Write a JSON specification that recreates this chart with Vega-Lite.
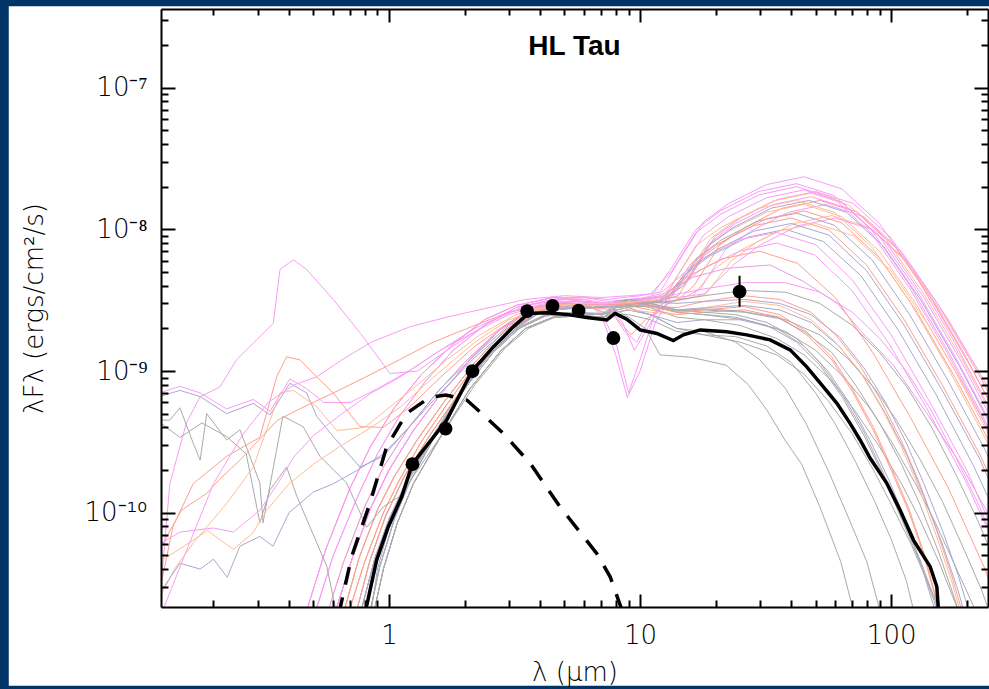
{
"$schema":"https://vega.github.io/schema/vega-lite/v6.json",
"width":827,"height":598,
"autosize":"none",
"padding":{"left":161,"top":9,"right":1,"bottom":82},
"background":"#003366",
"title":{"text":"HL Tau","anchor":"middle","frame":"group","offset":-77,"baseline":"alphabetic","font":"Liberation Sans","fontSize":28,"fontWeight":"bold","color":"#000000"},
"config":{"view":{"stroke":null},"axis":{"grid":false,"domainColor":"#000000","domainWidth":2,"tickColor":"#000000","tickWidth":2,"labelColor":"#000000","labelFont":"DejaVu Sans","labelFontSize":26,"labelFontWeight":200,"titleColor":"#000000","titleFont":"DejaVu Sans","titleFontSize":26,"titleFontWeight":200,"labelOverlap":false,"labelFlush":false,"labelBound":false}},
"resolve":{"axis":{"x":"independent","y":"independent"}},
"datasets":{
"models":[
{"k":"H1","x":0.5,"y":1.8e-11},{"k":"H1","x":0.6,"y":5e-11},{"k":"H1","x":0.75,"y":1.3e-10},{"k":"H1","x":0.9,"y":2.6e-10},{"k":"H1","x":1.1,"y":4.8e-10},{"k":"H1","x":1.4,"y":8.5e-10},{"k":"H1","x":1.8,"y":1.4e-9},{"k":"H1","x":2.4,"y":2.1e-9},{"k":"H1","x":3.2,"y":2.8e-9},{"k":"H1","x":4.5,"y":3.2e-9},{"k":"H1","x":6,"y":3.3e-9},{"k":"H1","x":7.5,"y":3.2e-9},{"k":"H1","x":8.5,"y":3.3e-9},{"k":"H1","x":10,"y":3.4e-9},{"k":"H1","x":12,"y":3.6e-9},{"k":"H1","x":14.2,"y":5.9e-9},{"k":"H1","x":17.9,"y":1.13e-8},{"k":"H1","x":22.5,"y":1.52e-8},{"k":"H1","x":31.9,"y":2.07e-8},{"k":"H1","x":45,"y":2.35e-8},{"k":"H1","x":63.6,"y":1.93e-8},{"k":"H1","x":89.8,"y":1.1e-8},{"k":"H1","x":126.8,"y":4.54e-9},{"k":"H1","x":179,"y":1.59e-9},{"k":"H1","x":253,"y":5e-10},
{"k":"H2","x":0.6,"y":1.8e-11},{"k":"H2","x":0.72,"y":5e-11},{"k":"H2","x":0.85,"y":1.1e-10},{"k":"H2","x":1,"y":2e-10},{"k":"H2","x":1.25,"y":3.8e-10},{"k":"H2","x":1.6,"y":6.8e-10},{"k":"H2","x":2.1,"y":1.2e-9},{"k":"H2","x":2.8,"y":2e-9},{"k":"H2","x":3.6,"y":2.7e-9},{"k":"H2","x":4.5,"y":3e-9},{"k":"H2","x":6,"y":3e-9},{"k":"H2","x":7,"y":2.6e-9},{"k":"H2","x":8,"y":1.6e-9},{"k":"H2","x":9,"y":7e-10},{"k":"H2","x":10,"y":1.2e-9},{"k":"H2","x":11.5,"y":2.6e-9},{"k":"H2","x":13.5,"y":3.6e-9},{"k":"H2","x":15.8,"y":4.6e-9},{"k":"H2","x":19.9,"y":8.9e-9},{"k":"H2","x":25.1,"y":1.2e-8},{"k":"H2","x":35.4,"y":1.63e-8},{"k":"H2","x":50,"y":1.85e-8},{"k":"H2","x":70.7,"y":1.52e-8},{"k":"H2","x":99.8,"y":8.7e-9},{"k":"H2","x":140.9,"y":3.57e-9},{"k":"H2","x":199,"y":1.25e-9},{"k":"H2","x":281,"y":3.9e-10},
{"k":"H3","x":0.46,"y":1.8e-11},{"k":"H3","x":0.56,"y":5.5e-11},{"k":"H3","x":0.7,"y":1.5e-10},{"k":"H3","x":0.85,"y":3e-10},{"k":"H3","x":1.05,"y":5.5e-10},{"k":"H3","x":1.35,"y":9.5e-10},{"k":"H3","x":1.8,"y":1.55e-9},{"k":"H3","x":2.4,"y":2.3e-9},{"k":"H3","x":3.2,"y":2.9e-9},{"k":"H3","x":4.5,"y":3.3e-9},{"k":"H3","x":6,"y":3.2e-9},{"k":"H3","x":7.5,"y":3e-9},{"k":"H3","x":9,"y":3.1e-9},{"k":"H3","x":10.5,"y":3.2e-9},{"k":"H3","x":12.5,"y":3.4e-9},{"k":"H3","x":15.2,"y":4.5e-9},{"k":"H3","x":19.1,"y":8.6e-9},{"k":"H3","x":24,"y":1.16e-8},{"k":"H3","x":34,"y":1.59e-8},{"k":"H3","x":48,"y":1.8e-8},{"k":"H3","x":67.8,"y":1.48e-8},{"k":"H3","x":95.8,"y":8.4e-9},{"k":"H3","x":135.3,"y":3.47e-9},{"k":"H3","x":191,"y":1.22e-9},{"k":"H3","x":270,"y":3.85e-10},
{"k":"H4","x":0.68,"y":1.8e-11},{"k":"H4","x":0.8,"y":4.5e-11},{"k":"H4","x":0.95,"y":1e-10},{"k":"H4","x":1.1,"y":1.7e-10},{"k":"H4","x":1.35,"y":3.2e-10},{"k":"H4","x":1.7,"y":5.8e-10},{"k":"H4","x":2.2,"y":1.1e-9},{"k":"H4","x":3,"y":1.9e-9},{"k":"H4","x":3.8,"y":2.6e-9},{"k":"H4","x":5,"y":2.9e-9},{"k":"H4","x":6.5,"y":2.8e-9},{"k":"H4","x":8,"y":2.4e-9},{"k":"H4","x":9.2,"y":1.8e-9},{"k":"H4","x":10.5,"y":2.3e-9},{"k":"H4","x":12.5,"y":2.9e-9},{"k":"H4","x":14.5,"y":3.3e-9},{"k":"H4","x":16.4,"y":4e-9},{"k":"H4","x":20.7,"y":7.7e-9},{"k":"H4","x":26.1,"y":1.03e-8},{"k":"H4","x":36.8,"y":1.41e-8},{"k":"H4","x":52,"y":1.6e-8},{"k":"H4","x":73.5,"y":1.32e-8},{"k":"H4","x":103.7,"y":7.5e-9},{"k":"H4","x":146.5,"y":3.09e-9},{"k":"H4","x":207,"y":1.08e-9},{"k":"H4","x":292,"y":3.4e-10},
{"k":"H5","x":0.56,"y":1.8e-11},{"k":"H5","x":0.66,"y":4.5e-11},{"k":"H5","x":0.8,"y":1.1e-10},{"k":"H5","x":0.95,"y":2.1e-10},{"k":"H5","x":1.2,"y":4e-10},{"k":"H5","x":1.55,"y":7e-10},{"k":"H5","x":2,"y":1.15e-9},{"k":"H5","x":2.7,"y":1.9e-9},{"k":"H5","x":3.6,"y":2.6e-9},{"k":"H5","x":4.5,"y":2.95e-9},{"k":"H5","x":6,"y":3e-9},{"k":"H5","x":7.5,"y":2.9e-9},{"k":"H5","x":9,"y":3e-9},{"k":"H5","x":10.5,"y":3.1e-9},{"k":"H5","x":12,"y":3.2e-9},{"k":"H5","x":14.2,"y":3.8e-9},{"k":"H5","x":17.9,"y":7.2e-9},{"k":"H5","x":22.5,"y":9.7e-9},{"k":"H5","x":31.9,"y":1.32e-8},{"k":"H5","x":45,"y":1.5e-8},{"k":"H5","x":63.6,"y":1.23e-8},{"k":"H5","x":89.8,"y":7e-9},{"k":"H5","x":126.8,"y":2.9e-9},{"k":"H5","x":179,"y":1.01e-9},{"k":"H5","x":253,"y":3.2e-10},
{"k":"H6","x":0.76,"y":1.8e-11},{"k":"H6","x":0.88,"y":4.8e-11},{"k":"H6","x":1,"y":9e-11},{"k":"H6","x":1.2,"y":1.8e-10},{"k":"H6","x":1.5,"y":3.5e-10},{"k":"H6","x":1.9,"y":6.5e-10},{"k":"H6","x":2.4,"y":1.2e-9},{"k":"H6","x":3.2,"y":2e-9},{"k":"H6","x":4,"y":2.6e-9},{"k":"H6","x":5,"y":2.75e-9},{"k":"H6","x":6.5,"y":2.8e-9},{"k":"H6","x":8,"y":2.9e-9},{"k":"H6","x":9.5,"y":3e-9},{"k":"H6","x":11,"y":3e-9},{"k":"H6","x":13.3,"y":3.3e-9},{"k":"H6","x":16.7,"y":6.2e-9},{"k":"H6","x":21,"y":8.4e-9},{"k":"H6","x":29.7,"y":1.15e-8},{"k":"H6","x":42,"y":1.3e-8},{"k":"H6","x":59.3,"y":1.07e-8},{"k":"H6","x":83.8,"y":6.1e-9},{"k":"H6","x":118.4,"y":2.5e-9},{"k":"H6","x":167,"y":8.8e-10},{"k":"H6","x":236,"y":2.8e-10},{"k":"H6","x":334,"y":7.3e-11},
{"k":"H7","x":0.5,"y":1.8e-11},{"k":"H7","x":0.6,"y":5e-11},{"k":"H7","x":0.75,"y":1.3e-10},{"k":"H7","x":0.9,"y":2.6e-10},{"k":"H7","x":1.1,"y":4.8e-10},{"k":"H7","x":1.4,"y":8.5e-10},{"k":"H7","x":1.8,"y":1.4e-9},{"k":"H7","x":2.4,"y":2.1e-9},{"k":"H7","x":3.2,"y":2.8e-9},{"k":"H7","x":4.5,"y":3.2e-9},{"k":"H7","x":6,"y":3.2e-9},{"k":"H7","x":7.5,"y":2.8e-9},{"k":"H7","x":8.7,"y":1.9e-9},{"k":"H7","x":9.7,"y":1.6e-9},{"k":"H7","x":11,"y":2.4e-9},{"k":"H7","x":13,"y":3e-9},{"k":"H7","x":15,"y":3.3e-9},{"k":"H7","x":17.4,"y":3.8e-9},{"k":"H7","x":21.9,"y":7.2e-9},{"k":"H7","x":27.6,"y":9.7e-9},{"k":"H7","x":38.9,"y":1.32e-8},{"k":"H7","x":55,"y":1.5e-8},{"k":"H7","x":77.7,"y":1.23e-8},{"k":"H7","x":109.7,"y":7e-9},{"k":"H7","x":155,"y":2.9e-9},{"k":"H7","x":219,"y":1.01e-9},{"k":"H7","x":309,"y":3.2e-10},
{"k":"H8","x":0.6,"y":1.8e-11},{"k":"H8","x":0.72,"y":5e-11},{"k":"H8","x":0.85,"y":1.1e-10},{"k":"H8","x":1,"y":2e-10},{"k":"H8","x":1.25,"y":3.8e-10},{"k":"H8","x":1.6,"y":6.8e-10},{"k":"H8","x":2.1,"y":1.2e-9},{"k":"H8","x":2.8,"y":2e-9},{"k":"H8","x":3.6,"y":2.7e-9},{"k":"H8","x":4.5,"y":3e-9},{"k":"H8","x":6,"y":3e-9},{"k":"H8","x":7.5,"y":2.9e-9},{"k":"H8","x":9,"y":3e-9},{"k":"H8","x":10.8,"y":3e-9},{"k":"H8","x":12.6,"y":3.1e-9},{"k":"H8","x":15.9,"y":5.7e-9},{"k":"H8","x":20,"y":7.75e-9},{"k":"H8","x":28.3,"y":1.06e-8},{"k":"H8","x":40,"y":1.2e-8},{"k":"H8","x":56.5,"y":9.9e-9},{"k":"H8","x":79.8,"y":5.6e-9},{"k":"H8","x":112.7,"y":2.3e-9},{"k":"H8","x":159,"y":8.1e-10},{"k":"H8","x":225,"y":2.6e-10},{"k":"H8","x":318,"y":6.7e-11},
{"k":"H9","x":0.65,"y":1.8e-11},{"k":"H9","x":0.76,"y":4.8e-11},{"k":"H9","x":0.9,"y":1.05e-10},{"k":"H9","x":1.05,"y":1.8e-10},{"k":"H9","x":1.3,"y":3.3e-10},{"k":"H9","x":1.65,"y":6e-10},{"k":"H9","x":2.2,"y":1.15e-9},{"k":"H9","x":2.9,"y":1.95e-9},{"k":"H9","x":3.8,"y":2.65e-9},{"k":"H9","x":5,"y":2.95e-9},{"k":"H9","x":6.5,"y":2.9e-9},{"k":"H9","x":8,"y":2.8e-9},{"k":"H9","x":9.5,"y":2.9e-9},{"k":"H9","x":11,"y":3e-9},{"k":"H9","x":12.5,"y":3.3e-9},{"k":"H9","x":15.1,"y":4.8e-9},{"k":"H9","x":19,"y":6.5e-9},{"k":"H9","x":26.9,"y":8.8e-9},{"k":"H9","x":38,"y":1e-8},{"k":"H9","x":53.7,"y":8.2e-9},{"k":"H9","x":75.8,"y":4.7e-9},{"k":"H9","x":107,"y":1.93e-9},{"k":"H9","x":151,"y":6.8e-10},{"k":"H9","x":214,"y":2.1e-10},{"k":"H9","x":302,"y":5.6e-11},
{"k":"H10","x":0.73,"y":1.8e-11},{"k":"H10","x":0.84,"y":4.6e-11},{"k":"H10","x":0.97,"y":9.5e-11},{"k":"H10","x":1.15,"y":1.8e-10},{"k":"H10","x":1.45,"y":3.5e-10},{"k":"H10","x":1.85,"y":6.5e-10},{"k":"H10","x":2.4,"y":1.25e-9},{"k":"H10","x":3.1,"y":2e-9},{"k":"H10","x":4,"y":2.6e-9},{"k":"H10","x":5,"y":2.8e-9},{"k":"H10","x":6.5,"y":2.8e-9},{"k":"H10","x":8,"y":2.9e-9},{"k":"H10","x":10,"y":3e-9},{"k":"H10","x":12.5,"y":3.1e-9},{"k":"H10","x":15,"y":3.2e-9},{"k":"H10","x":18.3,"y":3.5e-9},{"k":"H10","x":23.1,"y":6e-9},{"k":"H10","x":29.1,"y":8.1e-9},{"k":"H10","x":41.1,"y":1.1e-8},{"k":"H10","x":58,"y":1.25e-8},{"k":"H10","x":82,"y":1.03e-8},{"k":"H10","x":115.7,"y":5.85e-9},{"k":"H10","x":163.4,"y":2.41e-9},{"k":"H10","x":231,"y":8.5e-10},{"k":"H10","x":326,"y":2.7e-10},
{"k":"H11","x":0.46,"y":1.8e-11},{"k":"H11","x":0.56,"y":5.5e-11},{"k":"H11","x":0.7,"y":1.5e-10},{"k":"H11","x":0.85,"y":3e-10},{"k":"H11","x":1.05,"y":5.5e-10},{"k":"H11","x":1.35,"y":9.5e-10},{"k":"H11","x":1.8,"y":1.55e-9},{"k":"H11","x":2.4,"y":2.3e-9},{"k":"H11","x":3.2,"y":2.9e-9},{"k":"H11","x":4.5,"y":3.3e-9},{"k":"H11","x":6,"y":3.1e-9},{"k":"H11","x":7,"y":2.5e-9},{"k":"H11","x":8,"y":1.3e-9},{"k":"H11","x":8.9,"y":6.5e-10},{"k":"H11","x":10,"y":1e-9},{"k":"H11","x":11.5,"y":2.2e-9},{"k":"H11","x":13.9,"y":3.8e-9},{"k":"H11","x":17.5,"y":5.2e-9},{"k":"H11","x":24.8,"y":7e-9},{"k":"H11","x":35,"y":8e-9},{"k":"H11","x":49.5,"y":6.6e-9},{"k":"H11","x":69.8,"y":3.7e-9},{"k":"H11","x":98.6,"y":1.54e-9},{"k":"H11","x":139,"y":5.4e-10},{"k":"H11","x":197,"y":1.7e-10},{"k":"H11","x":278,"y":4.5e-11},
{"k":"H12","x":0.56,"y":1.8e-11},{"k":"H12","x":0.66,"y":4.5e-11},{"k":"H12","x":0.8,"y":1.1e-10},{"k":"H12","x":0.95,"y":2.1e-10},{"k":"H12","x":1.2,"y":4e-10},{"k":"H12","x":1.55,"y":7e-10},{"k":"H12","x":2,"y":1.15e-9},{"k":"H12","x":2.7,"y":1.9e-9},{"k":"H12","x":3.6,"y":2.6e-9},{"k":"H12","x":4.5,"y":2.95e-9},{"k":"H12","x":6,"y":3e-9},{"k":"H12","x":8,"y":3e-9},{"k":"H12","x":10,"y":3.2e-9},{"k":"H12","x":12,"y":3.4e-9},{"k":"H12","x":16.3,"y":4.6e-9},{"k":"H12","x":22,"y":5.3e-9},{"k":"H12","x":33,"y":5.6e-9},{"k":"H12","x":44.6,"y":4.3e-9},{"k":"H12","x":61,"y":3e-9},{"k":"H12","x":75,"y":1.95e-9},{"k":"H12","x":102,"y":1.1e-9},{"k":"H12","x":139,"y":5e-10},{"k":"H12","x":189,"y":2.2e-10},{"k":"H12","x":260,"y":8e-11},
{"k":"H13","x":0.68,"y":1.8e-11},{"k":"H13","x":0.8,"y":4.5e-11},{"k":"H13","x":0.95,"y":1e-10},{"k":"H13","x":1.1,"y":1.7e-10},{"k":"H13","x":1.35,"y":3.2e-10},{"k":"H13","x":1.7,"y":5.8e-10},{"k":"H13","x":2.2,"y":1.1e-9},{"k":"H13","x":3,"y":1.9e-9},{"k":"H13","x":3.8,"y":2.6e-9},{"k":"H13","x":5,"y":2.9e-9},{"k":"H13","x":6.5,"y":2.8e-9},{"k":"H13","x":8,"y":2.7e-9},{"k":"H13","x":10,"y":2.9e-9},{"k":"H13","x":12,"y":3.2e-9},{"k":"H13","x":15,"y":4.5e-9},{"k":"H13","x":21.2,"y":6.2e-9},{"k":"H13","x":30,"y":7e-9},{"k":"H13","x":42.4,"y":5.75e-9},{"k":"H13","x":59.9,"y":3.3e-9},{"k":"H13","x":84.5,"y":1.35e-9},{"k":"H13","x":119.4,"y":4.7e-10},{"k":"H13","x":168.7,"y":1.5e-10},{"k":"H13","x":238,"y":3.9e-11},{"k":"H13","x":280,"y":1.5e-11},
{"k":"H14","x":0.6,"y":1.8e-11},{"k":"H14","x":0.72,"y":5e-11},{"k":"H14","x":0.85,"y":1.1e-10},{"k":"H14","x":1,"y":2e-10},{"k":"H14","x":1.25,"y":3.8e-10},{"k":"H14","x":1.6,"y":6.8e-10},{"k":"H14","x":2.1,"y":1.2e-9},{"k":"H14","x":2.8,"y":2e-9},{"k":"H14","x":3.6,"y":2.7e-9},{"k":"H14","x":4.5,"y":3e-9},{"k":"H14","x":6,"y":3.1e-9},{"k":"H14","x":7.5,"y":3e-9},{"k":"H14","x":9,"y":3.2e-9},{"k":"H14","x":11,"y":3.3e-9},{"k":"H14","x":14,"y":3.3e-9},{"k":"H14","x":18,"y":3.5e-9},{"k":"H14","x":23.9,"y":5.75e-9},{"k":"H14","x":30.1,"y":7.75e-9},{"k":"H14","x":42.5,"y":1.06e-8},{"k":"H14","x":60,"y":1.2e-8},{"k":"H14","x":84.8,"y":9.9e-9},{"k":"H14","x":119.7,"y":5.6e-9},{"k":"H14","x":169,"y":2.3e-9},{"k":"H14","x":239,"y":8.1e-10},{"k":"H14","x":338,"y":2.6e-10},
{"k":"H15","x":0.65,"y":1.8e-11},{"k":"H15","x":0.76,"y":4.8e-11},{"k":"H15","x":0.9,"y":1.05e-10},{"k":"H15","x":1.05,"y":1.8e-10},{"k":"H15","x":1.3,"y":3.3e-10},{"k":"H15","x":1.65,"y":6e-10},{"k":"H15","x":2.2,"y":1.15e-9},{"k":"H15","x":2.9,"y":1.95e-9},{"k":"H15","x":3.8,"y":2.65e-9},{"k":"H15","x":5,"y":2.95e-9},{"k":"H15","x":6.5,"y":2.9e-9},{"k":"H15","x":8,"y":2.8e-9},{"k":"H15","x":10,"y":2.9e-9},{"k":"H15","x":12.5,"y":3e-9},{"k":"H15","x":16,"y":3.3e-9},{"k":"H15","x":19.9,"y":5.3e-9},{"k":"H15","x":25.1,"y":7.1e-9},{"k":"H15","x":35.4,"y":9.7e-9},{"k":"H15","x":50,"y":1.1e-8},{"k":"H15","x":70.7,"y":9e-9},{"k":"H15","x":99.8,"y":5.1e-9},{"k":"H15","x":140.9,"y":2.1e-9},{"k":"H15","x":199,"y":7.4e-10},{"k":"H15","x":281,"y":2.4e-10},
{"k":"H16","x":0.76,"y":1.8e-11},{"k":"H16","x":0.88,"y":4.8e-11},{"k":"H16","x":1,"y":9e-11},{"k":"H16","x":1.2,"y":1.8e-10},{"k":"H16","x":1.5,"y":3.5e-10},{"k":"H16","x":1.9,"y":6.5e-10},{"k":"H16","x":2.4,"y":1.2e-9},{"k":"H16","x":3.2,"y":2e-9},{"k":"H16","x":4,"y":2.6e-9},{"k":"H16","x":5,"y":2.75e-9},{"k":"H16","x":6.5,"y":2.8e-9},{"k":"H16","x":8,"y":2.9e-9},{"k":"H16","x":10,"y":3e-9},{"k":"H16","x":12,"y":3.1e-9},{"k":"H16","x":14.9,"y":4e-9},{"k":"H16","x":18.7,"y":7.7e-9},{"k":"H16","x":23.5,"y":1.03e-8},{"k":"H16","x":33.3,"y":1.41e-8},{"k":"H16","x":47,"y":1.6e-8},{"k":"H16","x":66.4,"y":1.32e-8},{"k":"H16","x":93.8,"y":7.5e-9},{"k":"H16","x":132.4,"y":3.09e-9},{"k":"H16","x":187,"y":1.08e-9},{"k":"H16","x":264,"y":3.4e-10},
{"k":"H17","x":0.46,"y":1.8e-11},{"k":"H17","x":0.56,"y":5.5e-11},{"k":"H17","x":0.7,"y":1.5e-10},{"k":"H17","x":0.85,"y":3e-10},{"k":"H17","x":1.05,"y":5.5e-10},{"k":"H17","x":1.35,"y":9.5e-10},{"k":"H17","x":1.8,"y":1.55e-9},{"k":"H17","x":2.4,"y":2.3e-9},{"k":"H17","x":3.2,"y":2.9e-9},{"k":"H17","x":4.5,"y":3.3e-9},{"k":"H17","x":6,"y":3.3e-9},{"k":"H17","x":7.5,"y":3.1e-9},{"k":"H17","x":9,"y":3.2e-9},{"k":"H17","x":11,"y":3.3e-9},{"k":"H17","x":13.3,"y":5.3e-9},{"k":"H17","x":16.7,"y":1e-8},{"k":"H17","x":21,"y":1.36e-8},{"k":"H17","x":29.7,"y":1.85e-8},{"k":"H17","x":42,"y":2.1e-8},{"k":"H17","x":59.3,"y":1.73e-8},{"k":"H17","x":83.8,"y":9.8e-9},{"k":"H17","x":118.4,"y":4.05e-9},{"k":"H17","x":167,"y":1.42e-9},{"k":"H17","x":236,"y":4.5e-10},{"k":"H17","x":334,"y":1.18e-10},
{"k":"L1","x":0.83,"y":1.8e-11},{"k":"L1","x":0.92,"y":4.2e-11},{"k":"L1","x":1.05,"y":9e-11},{"k":"L1","x":1.2,"y":1.6e-10},{"k":"L1","x":1.5,"y":3.3e-10},{"k":"L1","x":2,"y":7.5e-10},{"k":"L1","x":2.6,"y":1.35e-9},{"k":"L1","x":3.3,"y":2e-9},{"k":"L1","x":4.2,"y":2.45e-9},{"k":"L1","x":5.5,"y":2.55e-9},{"k":"L1","x":7,"y":2.5e-9},{"k":"L1","x":8,"y":2.7e-9},{"k":"L1","x":9,"y":2.4e-9},{"k":"L1","x":10.5,"y":2e-9},{"k":"L1","x":12,"y":1.3e-9},{"k":"L1","x":16,"y":1.25e-9},{"k":"L1","x":22,"y":1.1e-9},{"k":"L1","x":27,"y":8e-10},{"k":"L1","x":32,"y":5.3e-10},{"k":"L1","x":38,"y":3.2e-10},{"k":"L1","x":44,"y":2.2e-10},{"k":"L1","x":52,"y":1.1e-10},{"k":"L1","x":63,"y":4.5e-11},{"k":"L1","x":72,"y":1.8e-11},
{"k":"L2","x":0.86,"y":1.8e-11},{"k":"L2","x":0.95,"y":4e-11},{"k":"L2","x":1.08,"y":8.5e-11},{"k":"L2","x":1.25,"y":1.6e-10},{"k":"L2","x":1.6,"y":3.4e-10},{"k":"L2","x":2.1,"y":7.5e-10},{"k":"L2","x":2.8,"y":1.4e-9},{"k":"L2","x":3.5,"y":2e-9},{"k":"L2","x":4.5,"y":2.4e-9},{"k":"L2","x":6,"y":2.45e-9},{"k":"L2","x":7.2,"y":2.4e-9},{"k":"L2","x":8,"y":2.6e-9},{"k":"L2","x":9,"y":2.7e-9},{"k":"L2","x":11,"y":2.5e-9},{"k":"L2","x":14,"y":2e-9},{"k":"L2","x":18,"y":1.9e-9},{"k":"L2","x":24,"y":1.6e-9},{"k":"L2","x":30,"y":1.2e-9},{"k":"L2","x":38,"y":7.5e-10},{"k":"L2","x":46,"y":4.2e-10},{"k":"L2","x":56,"y":2e-10},{"k":"L2","x":68,"y":9e-11},{"k":"L2","x":80,"y":4.5e-11},{"k":"L2","x":92,"y":1.8e-11},
{"k":"L4","x":0.73,"y":1.8e-11},{"k":"L4","x":0.84,"y":4.6e-11},{"k":"L4","x":0.97,"y":9.5e-11},{"k":"L4","x":1.15,"y":1.8e-10},{"k":"L4","x":1.45,"y":3.5e-10},{"k":"L4","x":1.85,"y":6.5e-10},{"k":"L4","x":2.4,"y":1.25e-9},{"k":"L4","x":3.1,"y":2e-9},{"k":"L4","x":4,"y":2.6e-9},{"k":"L4","x":5,"y":2.8e-9},{"k":"L4","x":6.5,"y":2.8e-9},{"k":"L4","x":8,"y":3e-9},{"k":"L4","x":9,"y":3.1e-9},{"k":"L4","x":11,"y":2.9e-9},{"k":"L4","x":14,"y":2.6e-9},{"k":"L4","x":18,"y":2.5e-9},{"k":"L4","x":24,"y":2.4e-9},{"k":"L4","x":32,"y":2.1e-9},{"k":"L4","x":42,"y":1.6e-9},{"k":"L4","x":52,"y":1.1e-9},{"k":"L4","x":64,"y":6.5e-10},{"k":"L4","x":78,"y":3.5e-10},{"k":"L4","x":92,"y":1.9e-10},{"k":"L4","x":110,"y":9e-11},{"k":"L4","x":130,"y":4.5e-11},{"k":"L4","x":148,"y":2.4e-11},{"k":"L4","x":158,"y":1.6e-11},
{"k":"L5","x":0.83,"y":1.8e-11},{"k":"L5","x":0.92,"y":4.2e-11},{"k":"L5","x":1.05,"y":9e-11},{"k":"L5","x":1.2,"y":1.6e-10},{"k":"L5","x":1.5,"y":3.3e-10},{"k":"L5","x":2,"y":7.5e-10},{"k":"L5","x":2.6,"y":1.35e-9},{"k":"L5","x":3.3,"y":2e-9},{"k":"L5","x":4.2,"y":2.45e-9},{"k":"L5","x":5.5,"y":2.55e-9},{"k":"L5","x":7,"y":2.5e-9},{"k":"L5","x":8,"y":2.7e-9},{"k":"L5","x":9,"y":2.8e-9},{"k":"L5","x":11,"y":2.5e-9},{"k":"L5","x":14,"y":2e-9},{"k":"L5","x":18,"y":1.8e-9},{"k":"L5","x":25,"y":1.6e-9},{"k":"L5","x":35,"y":1.3e-9},{"k":"L5","x":45,"y":9.5e-10},{"k":"L5","x":56,"y":6.2e-10},{"k":"L5","x":70,"y":3.6e-10},{"k":"L5","x":85,"y":2e-10},{"k":"L5","x":100,"y":1.15e-10},{"k":"L5","x":120,"y":6e-11},{"k":"L5","x":140,"y":3.2e-11},{"k":"L5","x":165,"y":1.6e-11},
{"k":"L6","x":0.86,"y":1.8e-11},{"k":"L6","x":0.95,"y":4e-11},{"k":"L6","x":1.08,"y":8.5e-11},{"k":"L6","x":1.25,"y":1.6e-10},{"k":"L6","x":1.6,"y":3.4e-10},{"k":"L6","x":2.1,"y":7.5e-10},{"k":"L6","x":2.8,"y":1.4e-9},{"k":"L6","x":3.5,"y":2e-9},{"k":"L6","x":4.5,"y":2.4e-9},{"k":"L6","x":6,"y":2.45e-9},{"k":"L6","x":7.2,"y":2.4e-9},{"k":"L6","x":8,"y":2.8e-9},{"k":"L6","x":9,"y":3e-9},{"k":"L6","x":11,"y":2.8e-9},{"k":"L6","x":14,"y":2.4e-9},{"k":"L6","x":18,"y":2.3e-9},{"k":"L6","x":25,"y":2.1e-9},{"k":"L6","x":35,"y":1.7e-9},{"k":"L6","x":45,"y":1.3e-9},{"k":"L6","x":58,"y":8.5e-10},{"k":"L6","x":72,"y":5.2e-10},{"k":"L6","x":90,"y":2.9e-10},{"k":"L6","x":110,"y":1.6e-10},{"k":"L6","x":130,"y":9e-11},{"k":"L6","x":155,"y":4.5e-11},{"k":"L6","x":180,"y":2.3e-11},{"k":"L6","x":195,"y":1.6e-11},
{"k":"L8","x":0.76,"y":1.8e-11},{"k":"L8","x":0.88,"y":4.8e-11},{"k":"L8","x":1,"y":9e-11},{"k":"L8","x":1.2,"y":1.8e-10},{"k":"L8","x":1.5,"y":3.5e-10},{"k":"L8","x":1.9,"y":6.5e-10},{"k":"L8","x":2.4,"y":1.2e-9},{"k":"L8","x":3.2,"y":2e-9},{"k":"L8","x":4,"y":2.6e-9},{"k":"L8","x":5,"y":2.75e-9},{"k":"L8","x":6.5,"y":2.8e-9},{"k":"L8","x":8,"y":3.1e-9},{"k":"L8","x":9,"y":3.2e-9},{"k":"L8","x":11,"y":2.9e-9},{"k":"L8","x":14,"y":2.6e-9},{"k":"L8","x":18,"y":2.5e-9},{"k":"L8","x":26,"y":2.3e-9},{"k":"L8","x":38,"y":1.9e-9},{"k":"L8","x":50,"y":1.4e-9},{"k":"L8","x":65,"y":9e-10},{"k":"L8","x":82,"y":5.5e-10},{"k":"L8","x":100,"y":3.2e-10},{"k":"L8","x":125,"y":1.6e-10},{"k":"L8","x":150,"y":8.5e-11},{"k":"L8","x":180,"y":4.2e-11},{"k":"L8","x":215,"y":2.1e-11},{"k":"L8","x":245,"y":1.3e-11},
{"k":"L9","x":0.83,"y":1.8e-11},{"k":"L9","x":0.92,"y":4.2e-11},{"k":"L9","x":1.05,"y":9e-11},{"k":"L9","x":1.2,"y":1.6e-10},{"k":"L9","x":1.5,"y":3.3e-10},{"k":"L9","x":2,"y":7.5e-10},{"k":"L9","x":2.6,"y":1.35e-9},{"k":"L9","x":3.3,"y":2e-9},{"k":"L9","x":4.2,"y":2.45e-9},{"k":"L9","x":5.5,"y":2.55e-9},{"k":"L9","x":7,"y":2.5e-9},{"k":"L9","x":8,"y":2.6e-9},{"k":"L9","x":9,"y":2.7e-9},{"k":"L9","x":11,"y":2.5e-9},{"k":"L9","x":14,"y":2.2e-9},{"k":"L9","x":18,"y":2.3e-9},{"k":"L9","x":25,"y":2.3e-9},{"k":"L9","x":35,"y":2e-9},{"k":"L9","x":45,"y":1.5e-9},{"k":"L9","x":56,"y":1e-9},{"k":"L9","x":68,"y":6e-10},{"k":"L9","x":82,"y":3.3e-10},{"k":"L9","x":98,"y":1.7e-10},{"k":"L9","x":115,"y":8.5e-11},{"k":"L9","x":132,"y":4.2e-11},{"k":"L9","x":150,"y":2e-11},
{"k":"L10","x":0.73,"y":1.8e-11},{"k":"L10","x":0.84,"y":4.6e-11},{"k":"L10","x":0.97,"y":9.5e-11},{"k":"L10","x":1.15,"y":1.8e-10},{"k":"L10","x":1.45,"y":3.5e-10},{"k":"L10","x":1.85,"y":6.5e-10},{"k":"L10","x":2.4,"y":1.25e-9},{"k":"L10","x":3.1,"y":2e-9},{"k":"L10","x":4,"y":2.6e-9},{"k":"L10","x":5,"y":2.8e-9},{"k":"L10","x":6.5,"y":2.8e-9},{"k":"L10","x":8,"y":2.9e-9},{"k":"L10","x":9,"y":2.9e-9},{"k":"L10","x":11,"y":2.7e-9},{"k":"L10","x":14,"y":2.5e-9},{"k":"L10","x":18,"y":2.6e-9},{"k":"L10","x":26,"y":2.7e-9},{"k":"L10","x":36,"y":2.4e-9},{"k":"L10","x":46,"y":1.8e-9},{"k":"L10","x":58,"y":1.2e-9},{"k":"L10","x":70,"y":7.2e-10},{"k":"L10","x":85,"y":3.8e-10},{"k":"L10","x":100,"y":2e-10},{"k":"L10","x":118,"y":1e-10},{"k":"L10","x":135,"y":5e-11},{"k":"L10","x":152,"y":2.3e-11},{"k":"L10","x":160,"y":1.6e-11},
{"k":"L11","x":0.65,"y":1.8e-11},{"k":"L11","x":0.76,"y":4.8e-11},{"k":"L11","x":0.9,"y":1.05e-10},{"k":"L11","x":1.05,"y":1.8e-10},{"k":"L11","x":1.3,"y":3.3e-10},{"k":"L11","x":1.65,"y":6e-10},{"k":"L11","x":2.2,"y":1.15e-9},{"k":"L11","x":2.9,"y":1.95e-9},{"k":"L11","x":3.8,"y":2.65e-9},{"k":"L11","x":5,"y":2.95e-9},{"k":"L11","x":6.5,"y":2.9e-9},{"k":"L11","x":8,"y":2.9e-9},{"k":"L11","x":9,"y":3e-9},{"k":"L11","x":11,"y":2.9e-9},{"k":"L11","x":14,"y":2.8e-9},{"k":"L11","x":18,"y":3.1e-9},{"k":"L11","x":26,"y":3.4e-9},{"k":"L11","x":36,"y":3.2e-9},{"k":"L11","x":48,"y":2.6e-9},{"k":"L11","x":60,"y":1.8e-9},{"k":"L11","x":75,"y":1.1e-9},{"k":"L11","x":92,"y":6e-10},{"k":"L11","x":110,"y":3.2e-10},{"k":"L11","x":130,"y":1.6e-10},{"k":"L11","x":150,"y":8e-11},{"k":"L11","x":175,"y":3.5e-11},{"k":"L11","x":195,"y":1.8e-11},
{"k":"L12","x":0.76,"y":1.8e-11},{"k":"L12","x":0.88,"y":4.8e-11},{"k":"L12","x":1,"y":9e-11},{"k":"L12","x":1.2,"y":1.8e-10},{"k":"L12","x":1.5,"y":3.5e-10},{"k":"L12","x":1.9,"y":6.5e-10},{"k":"L12","x":2.4,"y":1.2e-9},{"k":"L12","x":3.2,"y":2e-9},{"k":"L12","x":4,"y":2.6e-9},{"k":"L12","x":5,"y":2.75e-9},{"k":"L12","x":6.5,"y":2.8e-9},{"k":"L12","x":8,"y":2.9e-9},{"k":"L12","x":9,"y":3e-9},{"k":"L12","x":11,"y":2.9e-9},{"k":"L12","x":14,"y":2.7e-9},{"k":"L12","x":18,"y":2.8e-9},{"k":"L12","x":26,"y":2.9e-9},{"k":"L12","x":36,"y":2.7e-9},{"k":"L12","x":48,"y":2.2e-9},{"k":"L12","x":62,"y":1.5e-9},{"k":"L12","x":78,"y":9e-10},{"k":"L12","x":95,"y":5e-10},{"k":"L12","x":115,"y":2.6e-10},{"k":"L12","x":135,"y":1.3e-10},{"k":"L12","x":160,"y":6e-11},{"k":"L12","x":185,"y":2.8e-11},{"k":"L12","x":200,"y":1.7e-11},
{"k":"L13","x":0.86,"y":1.8e-11},{"k":"L13","x":0.95,"y":4e-11},{"k":"L13","x":1.08,"y":8.5e-11},{"k":"L13","x":1.25,"y":1.6e-10},{"k":"L13","x":1.6,"y":3.4e-10},{"k":"L13","x":2.1,"y":7.5e-10},{"k":"L13","x":2.8,"y":1.4e-9},{"k":"L13","x":3.5,"y":2e-9},{"k":"L13","x":4.5,"y":2.4e-9},{"k":"L13","x":6,"y":2.45e-9},{"k":"L13","x":7.2,"y":2.4e-9},{"k":"L13","x":8,"y":3e-9},{"k":"L13","x":9,"y":3.2e-9},{"k":"L13","x":11,"y":3e-9},{"k":"L13","x":14,"y":2.7e-9},{"k":"L13","x":18,"y":2.7e-9},{"k":"L13","x":26,"y":2.6e-9},{"k":"L13","x":38,"y":2.3e-9},{"k":"L13","x":52,"y":1.8e-9},{"k":"L13","x":68,"y":1.2e-9},{"k":"L13","x":86,"y":7.5e-10},{"k":"L13","x":105,"y":4.5e-10},{"k":"L13","x":130,"y":2.4e-10},{"k":"L13","x":160,"y":1.2e-10},{"k":"L13","x":195,"y":5.5e-11},{"k":"L13","x":230,"y":2.8e-11},{"k":"L13","x":260,"y":1.5e-11},
{"k":"L14","x":0.6,"y":1.8e-11},{"k":"L14","x":0.72,"y":5e-11},{"k":"L14","x":0.85,"y":1.1e-10},{"k":"L14","x":1,"y":2e-10},{"k":"L14","x":1.25,"y":3.8e-10},{"k":"L14","x":1.6,"y":6.8e-10},{"k":"L14","x":2.1,"y":1.2e-9},{"k":"L14","x":2.8,"y":2e-9},{"k":"L14","x":3.6,"y":2.7e-9},{"k":"L14","x":4.5,"y":3e-9},{"k":"L14","x":6,"y":3e-9},{"k":"L14","x":8,"y":3e-9},{"k":"L14","x":10,"y":3.2e-9},{"k":"L14","x":13,"y":3.4e-9},{"k":"L14","x":18,"y":3.8e-9},{"k":"L14","x":26,"y":4.2e-9},{"k":"L14","x":38,"y":4.2e-9},{"k":"L14","x":52,"y":3.6e-9},{"k":"L14","x":70,"y":2.6e-9},{"k":"L14","x":90,"y":1.7e-9},{"k":"L14","x":115,"y":1e-9},{"k":"L14","x":145,"y":5.2e-10},{"k":"L14","x":180,"y":2.5e-10},{"k":"L14","x":220,"y":1.2e-10},{"k":"L14","x":260,"y":6e-11},
{"k":"L15","x":0.8,"y":1.8e-11},{"k":"L15","x":0.9,"y":4.5e-11},{"k":"L15","x":1.02,"y":9e-11},{"k":"L15","x":1.18,"y":1.65e-10},{"k":"L15","x":1.45,"y":3.2e-10},{"k":"L15","x":1.95,"y":7.5e-10},{"k":"L15","x":2.5,"y":1.3e-9},{"k":"L15","x":3.2,"y":1.95e-9},{"k":"L15","x":4.2,"y":2.5e-9},{"k":"L15","x":5.5,"y":2.6e-9},{"k":"L15","x":7,"y":2.5e-9},{"k":"L15","x":8,"y":2.9e-9},{"k":"L15","x":10,"y":3e-9},{"k":"L15","x":13,"y":3.1e-9},{"k":"L15","x":18,"y":3.4e-9},{"k":"L15","x":26,"y":3.7e-9},{"k":"L15","x":38,"y":3.6e-9},{"k":"L15","x":52,"y":3e-9},{"k":"L15","x":70,"y":2.1e-9},{"k":"L15","x":90,"y":1.35e-9},{"k":"L15","x":115,"y":7.8e-10},{"k":"L15","x":145,"y":4e-10},{"k":"L15","x":180,"y":1.9e-10},{"k":"L15","x":220,"y":9e-11},{"k":"L15","x":260,"y":4.5e-11},
{"k":"L16","x":0.86,"y":1.8e-11},{"k":"L16","x":0.95,"y":4e-11},{"k":"L16","x":1.08,"y":8.5e-11},{"k":"L16","x":1.25,"y":1.6e-10},{"k":"L16","x":1.6,"y":3.4e-10},{"k":"L16","x":2.1,"y":7.5e-10},{"k":"L16","x":2.8,"y":1.4e-9},{"k":"L16","x":3.5,"y":2e-9},{"k":"L16","x":4.5,"y":2.4e-9},{"k":"L16","x":6,"y":2.45e-9},{"k":"L16","x":7.2,"y":2.4e-9},{"k":"L16","x":8,"y":2.5e-9},{"k":"L16","x":9,"y":2.5e-9},{"k":"L16","x":11,"y":2.3e-9},{"k":"L16","x":14,"y":1.9e-9},{"k":"L16","x":18,"y":1.8e-9},{"k":"L16","x":24,"y":1.75e-9},{"k":"L16","x":32,"y":1.5e-9},{"k":"L16","x":40,"y":1.15e-9},{"k":"L16","x":50,"y":7e-10},{"k":"L16","x":60,"y":4.2e-10},{"k":"L16","x":72,"y":2.3e-10},{"k":"L16","x":86,"y":1.2e-10},{"k":"L16","x":100,"y":6.5e-11},{"k":"L16","x":115,"y":3.3e-11},{"k":"L16","x":125,"y":1.8e-11},
{"k":"O1","x":0.124,"y":3.2e-11},{"k":"O1","x":0.134,"y":1.6e-10},{"k":"O1","x":0.156,"y":4.3e-10},{"k":"O1","x":0.177,"y":6.6e-10},{"k":"O1","x":0.212,"y":7.7e-10},{"k":"O1","x":0.247,"y":1.2e-9},{"k":"O1","x":0.288,"y":1.57e-9},{"k":"O1","x":0.346,"y":2.17e-9},{"k":"O1","x":0.368,"y":5.2e-9},{"k":"O1","x":0.416,"y":6.1e-9},{"k":"O1","x":0.47,"y":5.2e-9},{"k":"O1","x":0.6,"y":3.2e-9},{"k":"O1","x":0.77,"y":1.84e-9},{"k":"O1","x":1.01,"y":9.6e-10},{"k":"O1","x":1.3,"y":1e-9},{"k":"O1","x":1.8,"y":1.5e-9},{"k":"O1","x":2.5,"y":2.2e-9},{"k":"O1","x":3.5,"y":2.9e-9},{"k":"O1","x":5,"y":3.2e-9},{"k":"O1","x":7,"y":3e-9},{"k":"O1","x":9,"y":3.1e-9},{"k":"O1","x":12,"y":3.5e-9},{"k":"O1","x":17,"y":6e-9},{"k":"O1","x":25,"y":8.5e-9},{"k":"O1","x":35,"y":9.5e-9},{"k":"O1","x":50,"y":7.8e-9},{"k":"O1","x":70,"y":4.4e-9},{"k":"O1","x":100,"y":1.8e-9},{"k":"O1","x":140,"y":6.4e-10},{"k":"O1","x":200,"y":2e-10},{"k":"O1","x":280,"y":5e-11},
{"k":"O2","x":0.122,"y":6.6e-10},{"k":"O2","x":0.147,"y":7.3e-10},{"k":"O2","x":0.177,"y":6.6e-10},{"k":"O2","x":0.2256,"y":5e-10},{"k":"O2","x":0.288,"y":5.9e-10},{"k":"O2","x":0.336,"y":4.9e-10},{"k":"O2","x":0.403,"y":8.2e-10},{"k":"O2","x":0.47,"y":7e-10},{"k":"O2","x":0.515,"y":4.8e-10},{"k":"O2","x":0.6,"y":3.44e-10},{"k":"O2","x":0.766,"y":2.1e-10},{"k":"O2","x":0.95,"y":2.5e-10},{"k":"O2","x":1.2,"y":4e-10},{"k":"O2","x":1.6,"y":7e-10},{"k":"O2","x":2.2,"y":1.25e-9},{"k":"O2","x":3,"y":2e-9},{"k":"O2","x":4,"y":2.6e-9},{"k":"O2","x":5.5,"y":2.8e-9},{"k":"O2","x":6.5,"y":2.8e-9},{"k":"O2","x":8,"y":2.9e-9},{"k":"O2","x":9,"y":3.2e-9},{"k":"O2","x":11,"y":3.1e-9},{"k":"O2","x":14,"y":3e-9},{"k":"O2","x":18,"y":3.1e-9},{"k":"O2","x":26,"y":3.2e-9},{"k":"O2","x":36,"y":3e-9},{"k":"O2","x":48,"y":2.5e-9},{"k":"O2","x":62,"y":1.75e-9},{"k":"O2","x":78,"y":1.05e-9},{"k":"O2","x":95,"y":6e-10},{"k":"O2","x":115,"y":3.1e-10},{"k":"O2","x":135,"y":1.6e-10},{"k":"O2","x":160,"y":7.5e-11},{"k":"O2","x":185,"y":3.6e-11},{"k":"O2","x":210,"y":1.7e-11},
{"k":"O3","x":0.122,"y":7e-10},{"k":"O3","x":0.147,"y":7.8e-10},{"k":"O3","x":0.177,"y":7e-10},{"k":"O3","x":0.2256,"y":5.4e-10},{"k":"O3","x":0.288,"y":6.3e-10},{"k":"O3","x":0.336,"y":5.2e-10},{"k":"O3","x":0.403,"y":8.8e-10},{"k":"O3","x":0.47,"y":7.5e-10},{"k":"O3","x":0.55,"y":6e-10},{"k":"O3","x":0.7,"y":6e-10},{"k":"O3","x":0.9,"y":7.5e-10},{"k":"O3","x":1.2,"y":1e-9},{"k":"O3","x":1.6,"y":1.4e-9},{"k":"O3","x":2.2,"y":1.9e-9},{"k":"O3","x":3,"y":2.5e-9},{"k":"O3","x":4,"y":2.9e-9},{"k":"O3","x":5.5,"y":3.1e-9},{"k":"O3","x":7,"y":3e-9},{"k":"O3","x":9,"y":3.1e-9},{"k":"O3","x":11,"y":3.2e-9},{"k":"O3","x":13,"y":3.4e-9},{"k":"O3","x":15.2,"y":4.3e-9},{"k":"O3","x":19.1,"y":8.1e-9},{"k":"O3","x":24,"y":1.1e-8},{"k":"O3","x":34,"y":1.5e-8},{"k":"O3","x":48,"y":1.7e-8},{"k":"O3","x":67.8,"y":1.4e-8},{"k":"O3","x":95.8,"y":8e-9},{"k":"O3","x":135,"y":3.3e-9},{"k":"O3","x":191,"y":1.15e-9},{"k":"O3","x":270,"y":3.6e-10},
{"k":"O4","x":0.124,"y":3.2e-11},{"k":"O4","x":0.138,"y":8e-11},{"k":"O4","x":0.166,"y":1.6e-10},{"k":"O4","x":0.2256,"y":2.5e-10},{"k":"O4","x":0.306,"y":3.4e-10},{"k":"O4","x":0.357,"y":9.1e-10},{"k":"O4","x":0.391,"y":1.26e-9},{"k":"O4","x":0.442,"y":1.2e-9},{"k":"O4","x":0.515,"y":9.1e-10},{"k":"O4","x":0.6,"y":7e-10},{"k":"O4","x":0.766,"y":4.05e-10},{"k":"O4","x":0.95,"y":4e-10},{"k":"O4","x":1.2,"y":5.5e-10},{"k":"O4","x":1.6,"y":9e-10},{"k":"O4","x":2.2,"y":1.5e-9},{"k":"O4","x":3,"y":2.2e-9},{"k":"O4","x":4,"y":2.8e-9},{"k":"O4","x":5.5,"y":3e-9},{"k":"O4","x":7,"y":2.9e-9},{"k":"O4","x":9,"y":3e-9},{"k":"O4","x":11,"y":3.1e-9},{"k":"O4","x":12.5,"y":3.2e-9},{"k":"O4","x":14.2,"y":3.4e-9},{"k":"O4","x":17.9,"y":6.5e-9},{"k":"O4","x":22.5,"y":8.7e-9},{"k":"O4","x":31.9,"y":1.19e-8},{"k":"O4","x":45,"y":1.35e-8},{"k":"O4","x":63.6,"y":1.11e-8},{"k":"O4","x":89.8,"y":6.3e-9},{"k":"O4","x":126.8,"y":2.6e-9},{"k":"O4","x":179,"y":9.1e-10},{"k":"O4","x":253,"y":2.9e-10},
{"k":"O5","x":0.122,"y":2.5e-11},{"k":"O5","x":0.14,"y":4e-11},{"k":"O5","x":0.166,"y":6.1e-11},{"k":"O5","x":0.2256,"y":1.16e-10},{"k":"O5","x":0.288,"y":2.1e-10},{"k":"O5","x":0.368,"y":7e-10},{"k":"O5","x":0.416,"y":7.3e-10},{"k":"O5","x":0.515,"y":5.6e-10},{"k":"O5","x":0.62,"y":3.8e-10},{"k":"O5","x":0.8,"y":4e-10},{"k":"O5","x":1,"y":5.5e-10},{"k":"O5","x":1.3,"y":8e-10},{"k":"O5","x":1.7,"y":1.2e-9},{"k":"O5","x":2.3,"y":1.8e-9},{"k":"O5","x":3.2,"y":2.5e-9},{"k":"O5","x":4.5,"y":2.9e-9},{"k":"O5","x":6,"y":2.9e-9},{"k":"O5","x":8,"y":2.9e-9},{"k":"O5","x":9,"y":2.7e-9},{"k":"O5","x":11,"y":2.6e-9},{"k":"O5","x":14,"y":2.5e-9},{"k":"O5","x":18,"y":2.8e-9},{"k":"O5","x":26,"y":3.1e-9},{"k":"O5","x":36,"y":2.9e-9},{"k":"O5","x":48,"y":2.3e-9},{"k":"O5","x":60,"y":1.6e-9},{"k":"O5","x":75,"y":1e-9},{"k":"O5","x":92,"y":5.4e-10},{"k":"O5","x":110,"y":2.9e-10},{"k":"O5","x":130,"y":1.45e-10},{"k":"O5","x":150,"y":7.2e-11},{"k":"O5","x":175,"y":3.2e-11},{"k":"O5","x":195,"y":1.6e-11},
{"k":"O6","x":0.122,"y":4.5e-10},{"k":"O6","x":0.134,"y":4.5e-10},{"k":"O6","x":0.147,"y":5.5e-10},{"k":"O6","x":0.166,"y":3.1e-10},{"k":"O6","x":0.177,"y":2.35e-10},{"k":"O6","x":0.188,"y":5e-10},{"k":"O6","x":0.2256,"y":3.26e-10},{"k":"O6","x":0.255,"y":3.84e-10},{"k":"O6","x":0.306,"y":1.62e-10},{"k":"O6","x":0.315,"y":8.5e-11},{"k":"O6","x":0.378,"y":4.8e-10},{"k":"O6","x":0.455,"y":4.05e-10},{"k":"O6","x":0.531,"y":2.5e-10},{"k":"O6","x":0.678,"y":1.62e-10},{"k":"O6","x":0.815,"y":7.9e-11},{"k":"O6","x":0.95,"y":1.1e-10},{"k":"O6","x":1.1,"y":1.3e-10},{"k":"O6","x":1.3,"y":2e-10},{"k":"O6","x":1.7,"y":4e-10},{"k":"O6","x":2.2,"y":8e-10},{"k":"O6","x":2.9,"y":1.45e-9},{"k":"O6","x":3.6,"y":2e-9},{"k":"O6","x":4.6,"y":2.4e-9},{"k":"O6","x":6,"y":2.45e-9},{"k":"O6","x":7.2,"y":2.4e-9},{"k":"O6","x":8,"y":2.8e-9},{"k":"O6","x":9,"y":2.85e-9},{"k":"O6","x":11,"y":2.85e-9},{"k":"O6","x":14,"y":2.65e-9},{"k":"O6","x":18,"y":2.75e-9},{"k":"O6","x":25,"y":2.65e-9},{"k":"O6","x":35,"y":2.4e-9},{"k":"O6","x":45,"y":1.9e-9},{"k":"O6","x":58,"y":1.35e-9},{"k":"O6","x":72,"y":8e-10},{"k":"O6","x":90,"y":4.3e-10},{"k":"O6","x":110,"y":2.2e-10},{"k":"O6","x":130,"y":1.15e-10},{"k":"O6","x":155,"y":5.2e-11},{"k":"O6","x":180,"y":2.4e-11},{"k":"O6","x":195,"y":1.5e-11},
{"k":"O7","x":0.123,"y":4.3e-10},{"k":"O7","x":0.147,"y":3.4e-10},{"k":"O7","x":0.18,"y":4.3e-10},{"k":"O7","x":0.2256,"y":3.45e-10},{"k":"O7","x":0.27,"y":2.6e-10},{"k":"O7","x":0.306,"y":8.5e-11},{"k":"O7","x":0.336,"y":1.45e-10},{"k":"O7","x":0.391,"y":2.1e-10},{"k":"O7","x":0.43,"y":1.3e-10},{"k":"O7","x":0.485,"y":7.9e-11},{"k":"O7","x":0.565,"y":4.2e-11},{"k":"O7","x":0.62,"y":1.9e-11},{"k":"O7","x":0.66,"y":1e-11},{"k":"O7","x":0.8,"y":1e-11},{"k":"O7","x":0.9,"y":4e-11},{"k":"O7","x":1.02,"y":9e-11},{"k":"O7","x":1.2,"y":1.7e-10},{"k":"O7","x":1.5,"y":3.4e-10},{"k":"O7","x":2,"y":7.8e-10},{"k":"O7","x":2.6,"y":1.4e-9},{"k":"O7","x":3.3,"y":2.05e-9},{"k":"O7","x":4.2,"y":2.5e-9},{"k":"O7","x":5.5,"y":2.6e-9},{"k":"O7","x":7,"y":2.55e-9},{"k":"O7","x":8,"y":2.8e-9},{"k":"O7","x":9,"y":3.2e-9},{"k":"O7","x":11,"y":3e-9},{"k":"O7","x":14,"y":2.7e-9},{"k":"O7","x":18,"y":2.6e-9},{"k":"O7","x":24,"y":2.5e-9},{"k":"O7","x":32,"y":2.2e-9},{"k":"O7","x":42,"y":1.7e-9},{"k":"O7","x":52,"y":1.15e-9},{"k":"O7","x":64,"y":6.8e-10},{"k":"O7","x":78,"y":3.7e-10},{"k":"O7","x":92,"y":2e-10},{"k":"O7","x":110,"y":9.5e-11},{"k":"O7","x":130,"y":4.7e-11},{"k":"O7","x":150,"y":2.4e-11},{"k":"O7","x":160,"y":1.5e-11},
{"k":"O8","x":0.122,"y":2.7e-11},{"k":"O8","x":0.147,"y":4.4e-11},{"k":"O8","x":0.177,"y":4e-11},{"k":"O8","x":0.2,"y":4.7e-11},{"k":"O8","x":0.227,"y":3.5e-11},{"k":"O8","x":0.255,"y":5.8e-11},{"k":"O8","x":0.306,"y":6.8e-11},{"k":"O8","x":0.345,"y":5.8e-11},{"k":"O8","x":0.4,"y":1e-10},{"k":"O8","x":0.5,"y":1.4e-10},{"k":"O8","x":0.6,"y":1.6e-10},{"k":"O8","x":0.75,"y":2e-10},{"k":"O8","x":0.95,"y":2.6e-10},{"k":"O8","x":1.2,"y":4e-10},{"k":"O8","x":1.6,"y":7.5e-10},{"k":"O8","x":2.2,"y":1.3e-9},{"k":"O8","x":3,"y":2.1e-9},{"k":"O8","x":4,"y":2.7e-9},{"k":"O8","x":5.5,"y":2.9e-9},{"k":"O8","x":7,"y":2.8e-9},{"k":"O8","x":9,"y":2.9e-9},{"k":"O8","x":11,"y":3e-9},{"k":"O8","x":12.6,"y":3.1e-9},{"k":"O8","x":15.9,"y":5.3e-9},{"k":"O8","x":20,"y":7.1e-9},{"k":"O8","x":28.3,"y":9.7e-9},{"k":"O8","x":40,"y":1.1e-8},{"k":"O8","x":56.5,"y":9.1e-9},{"k":"O8","x":79.8,"y":5.1e-9},{"k":"O8","x":112.7,"y":2.1e-9},{"k":"O8","x":159,"y":7.4e-10},{"k":"O8","x":225,"y":2.4e-10},{"k":"O8","x":318,"y":6e-11},
{"k":"O9","x":0.122,"y":5.5e-11},{"k":"O9","x":0.149,"y":1.04e-10},{"k":"O9","x":0.188,"y":1.37e-10},{"k":"O9","x":0.21,"y":1.7e-10},{"k":"O9","x":0.255,"y":2.35e-10},{"k":"O9","x":0.3,"y":3.2e-10},{"k":"O9","x":0.36,"y":4.5e-10},{"k":"O9","x":0.45,"y":5.5e-10},{"k":"O9","x":0.6,"y":7e-10},{"k":"O9","x":0.8,"y":9e-10},{"k":"O9","x":1.1,"y":1.2e-9},{"k":"O9","x":1.5,"y":1.6e-9},{"k":"O9","x":2.2,"y":2.1e-9},{"k":"O9","x":3,"y":2.6e-9},{"k":"O9","x":4.5,"y":3e-9},{"k":"O9","x":6,"y":3e-9},{"k":"O9","x":8,"y":2.9e-9},{"k":"O9","x":9,"y":3e-9},{"k":"O9","x":11,"y":2.85e-9},{"k":"O9","x":14,"y":2.6e-9},{"k":"O9","x":18,"y":2.7e-9},{"k":"O9","x":26,"y":2.85e-9},{"k":"O9","x":36,"y":2.5e-9},{"k":"O9","x":46,"y":1.9e-9},{"k":"O9","x":58,"y":1.25e-9},{"k":"O9","x":70,"y":7.5e-10},{"k":"O9","x":85,"y":4e-10},{"k":"O9","x":100,"y":2.1e-10},{"k":"O9","x":118,"y":1.05e-10},{"k":"O9","x":135,"y":5.2e-11},{"k":"O9","x":152,"y":2.4e-11},{"k":"O9","x":162,"y":1.5e-11},
{"k":"O10","x":0.122,"y":6e-11},{"k":"O10","x":0.147,"y":7.3e-11},{"k":"O10","x":0.2,"y":7.8e-11},{"k":"O10","x":0.24,"y":7.3e-11},{"k":"O10","x":0.306,"y":1.04e-10},{"k":"O10","x":0.36,"y":1.6e-10},{"k":"O10","x":0.42,"y":2.5e-10},{"k":"O10","x":0.5,"y":3.5e-10},{"k":"O10","x":0.65,"y":5e-10},{"k":"O10","x":0.85,"y":7e-10},{"k":"O10","x":1.1,"y":9e-10},{"k":"O10","x":1.5,"y":1.3e-9},{"k":"O10","x":2.2,"y":2e-9},{"k":"O10","x":3,"y":2.6e-9},{"k":"O10","x":4.5,"y":3.1e-9},{"k":"O10","x":6,"y":3.1e-9},{"k":"O10","x":7.5,"y":2.9e-9},{"k":"O10","x":8.5,"y":2.2e-9},{"k":"O10","x":9.5,"y":1.4e-9},{"k":"O10","x":10.5,"y":1.9e-9},{"k":"O10","x":12,"y":2.8e-9},{"k":"O10","x":14.2,"y":4.8e-9},{"k":"O10","x":17.9,"y":9.1e-9},{"k":"O10","x":22.5,"y":1.23e-8},{"k":"O10","x":31.9,"y":1.67e-8},{"k":"O10","x":45,"y":1.9e-8},{"k":"O10","x":63.6,"y":1.56e-8},{"k":"O10","x":89.8,"y":8.9e-9},{"k":"O10","x":126.8,"y":3.67e-9},{"k":"O10","x":179,"y":1.28e-9},{"k":"O10","x":253,"y":4.1e-10},
{"k":"O11","x":0.122,"y":4.5e-11},{"k":"O11","x":0.166,"y":6.4e-11},{"k":"O11","x":0.189,"y":7.5e-11},{"k":"O11","x":0.24,"y":5.5e-11},{"k":"O11","x":0.287,"y":7.2e-11},{"k":"O11","x":0.326,"y":1.04e-10},{"k":"O11","x":0.4,"y":1.6e-10},{"k":"O11","x":0.5,"y":2.2e-10},{"k":"O11","x":0.65,"y":3e-10},{"k":"O11","x":0.85,"y":4e-10},{"k":"O11","x":1.1,"y":5.5e-10},{"k":"O11","x":1.5,"y":9e-10},{"k":"O11","x":2.2,"y":1.6e-9},{"k":"O11","x":3,"y":2.3e-9},{"k":"O11","x":4.5,"y":2.9e-9},{"k":"O11","x":6,"y":3e-9},{"k":"O11","x":8,"y":3e-9},{"k":"O11","x":10,"y":3.1e-9},{"k":"O11","x":12,"y":3.2e-9},{"k":"O11","x":13.3,"y":4e-9},{"k":"O11","x":16.7,"y":7.7e-9},{"k":"O11","x":21,"y":1.03e-8},{"k":"O11","x":29.7,"y":1.41e-8},{"k":"O11","x":42,"y":1.6e-8},{"k":"O11","x":59.3,"y":1.32e-8},{"k":"O11","x":83.8,"y":7.5e-9},{"k":"O11","x":118.4,"y":3.1e-9},{"k":"O11","x":167,"y":1.08e-9},{"k":"O11","x":236,"y":3.4e-10},{"k":"O11","x":334,"y":9e-11},
{"k":"O12","x":0.122,"y":1.8e-11},{"k":"O12","x":0.16,"y":6e-11},{"k":"O12","x":0.2,"y":1.6e-10},{"k":"O12","x":0.26,"y":3.5e-10},{"k":"O12","x":0.33,"y":6e-10},{"k":"O12","x":0.42,"y":8e-10},{"k":"O12","x":0.515,"y":9.1e-10},{"k":"O12","x":0.65,"y":1.2e-9},{"k":"O12","x":0.85,"y":1.6e-9},{"k":"O12","x":1.21,"y":2.05e-9},{"k":"O12","x":1.7,"y":2.4e-9},{"k":"O12","x":2.5,"y":2.8e-9},{"k":"O12","x":3.5,"y":3.2e-9},{"k":"O12","x":5,"y":3.4e-9},{"k":"O12","x":7,"y":3.3e-9},{"k":"O12","x":9,"y":3.4e-9},{"k":"O12","x":11,"y":3.5e-9},{"k":"O12","x":13.3,"y":5e-9},{"k":"O12","x":16.7,"y":9.5e-9},{"k":"O12","x":21,"y":1.28e-8},{"k":"O12","x":29.7,"y":1.75e-8},{"k":"O12","x":42,"y":2e-8},{"k":"O12","x":59.3,"y":1.65e-8},{"k":"O12","x":83.8,"y":9.3e-9},{"k":"O12","x":118.4,"y":3.85e-9},{"k":"O12","x":167,"y":1.35e-9},{"k":"O12","x":236,"y":4.3e-10},{"k":"O12","x":334,"y":1.1e-10}
],
"fit":[
{"x":0.8,"y":1.9e-11},{"x":0.893,"y":4.64e-11},{"x":0.994,"y":7.96e-11},{"x":1.124,"y":1.3e-10},{"x":1.238,"y":2.2e-10},{"x":1.698,"y":4.51e-10},{"x":2.142,"y":1e-9},{"x":2.603,"y":1.48e-9},{"x":3.128,"y":2.05e-9},{"x":3.589,"y":2.55e-9},{"x":4.25,"y":2.58e-9},{"x":5.1,"y":2.51e-9},{"x":6.13,"y":2.39e-9},{"x":7.37,"y":2.29e-9},{"x":7.95,"y":2.55e-9},{"x":8.85,"y":2.32e-9},{"x":10,"y":1.95e-9},{"x":11.66,"y":1.84e-9},{"x":13.57,"y":1.64e-9},{"x":14.88,"y":1.8e-9},{"x":17.34,"y":1.95e-9},{"x":22.15,"y":1.89e-9},{"x":26.6,"y":1.8e-9},{"x":32.96,"y":1.66e-9},{"x":39.6,"y":1.41e-9},{"x":46.1,"y":1.07e-9},{"x":53.7,"y":7.74e-10},{"x":60.8,"y":5.92e-10},{"x":68.6,"y":4.27e-10},{"x":75.2,"y":3.26e-10},{"x":82.5,"y":2.42e-10},{"x":96.1,"y":1.61e-10},{"x":108.6,"y":1.04e-10},{"x":122.7,"y":6.41e-11},{"x":143,"y":4.16e-11},{"x":152,"y":3e-11},{"x":155,"y":1.8e-11}
],
"star":[
{"x":0.63,"y":1.9e-11},{"x":0.71,"y":4.9e-11},{"x":0.84,"y":1.17e-10},{"x":0.979,"y":2.92e-10},{"x":1.176,"y":5.03e-10},{"x":1.45,"y":6.5e-10},{"x":1.687,"y":6.78e-10},{"x":2.04,"y":6.24e-10},{"x":2.3,"y":5.16e-10},{"x":2.853,"y":3.63e-10},{"x":3.65,"y":2.23e-10},{"x":4.8,"y":1.1e-10},{"x":6.72,"y":5.16e-11},{"x":7.6,"y":3.53e-11},{"x":8.6,"y":1.9e-11}
],
"obs":[
{"x":1.24,"y":2.2e-10},{"x":1.68,"y":3.92e-10},{"x":2.15,"y":1e-9},{"x":3.55,"y":2.65e-9},{"x":4.48,"y":2.88e-9},{"x":5.69,"y":2.67e-9},{"x":7.83,"y":1.71e-9},{"x":24.9,"y":3.63e-9,"lo":2.84e-9,"hi":4.7e-9}
]
},
"layer":[
{"data":{"values":[{}]},
 "mark":{"type":"rect","fill":"#ffffff","clip":false},
 "encoding":{
  "x":{"datum":0.0306,"type":"quantitative","scale":{"type":"log","domain":[0.1236,243],"nice":false},
       "axis":{"orient":"top","zindex":2,"values":[0.2,0.3,0.4,0.5,0.6,0.7,0.8,0.9,1,2,3,4,5,6,7,8,9,10,20,30,40,50,60,70,80,90,100,200],"labels":false,"title":null,
               "tickSize":{"condition":{"test":"indexof([1,10,100], datum.value) >= 0","value":-13},"value":-6}}},
  "x2":{"datum":300},
  "y":{"datum":3.75e-7,"type":"quantitative","scale":{"type":"log","domain":[2.16e-11,3.59e-7],"nice":false},
       "axis":{"orient":"right","zindex":2,"values":[3e-11,4e-11,5e-11,6e-11,7e-11,8e-11,9e-11,1e-10,2e-10,3e-10,4e-10,5e-10,6e-10,7e-10,8e-10,9e-10,1e-9,2e-9,3e-9,4e-9,5e-9,6e-9,7e-9,8e-9,9e-9,1e-8,2e-8,3e-8,4e-8,5e-8,6e-8,7e-8,8e-8,9e-8,1e-7,2e-7,3e-7],"labels":false,"title":null,
               "tickSize":{"condition":{"test":"indexof([1e-10,1e-9,1e-8,1e-7], datum.value) >= 0","value":-14},"value":-7}}},
  "y2":{"datum":6e-12}}},
{"data":{"name":"models"},
 "mark":{"type":"line","clip":true,"strokeWidth":1},
 "encoding":{
  "x":{"field":"x","type":"quantitative","scale":{"type":"log","domain":[0.1236,243],"nice":false},
       "axis":{"orient":"bottom","zindex":2,"values":[0.2,0.3,0.4,0.5,0.6,0.7,0.8,0.9,1,2,3,4,5,6,7,8,9,10,20,30,40,50,60,70,80,90,100,200],
               "labelExpr":"datum.value == 1 ? '1' : datum.value == 10 ? '10' : datum.value == 100 ? '100' : ''",
               "tickSize":{"condition":{"test":"indexof([1,10,100], datum.value) >= 0","value":-13},"value":-7},
               "labelPadding":28,"title":"λ (μm)","titleX":413.5,"titleY":73,"titleBaseline":"alphabetic","titleAlign":"center"}},
  "y":{"field":"y","type":"quantitative","scale":{"type":"log","domain":[2.16e-11,3.59e-7],"nice":false},
       "axis":{"orient":"left","zindex":2,"values":[3e-11,4e-11,5e-11,6e-11,7e-11,8e-11,9e-11,1e-10,2e-10,3e-10,4e-10,5e-10,6e-10,7e-10,8e-10,9e-10,1e-9,2e-9,3e-9,4e-9,5e-9,6e-9,7e-9,8e-9,9e-9,1e-8,2e-8,3e-8,4e-8,5e-8,6e-8,7e-8,8e-8,9e-8,1e-7,2e-7,3e-7],
               "labelExpr":"datum.value == 1e-10 ? '10⁻¹⁰' : datum.value == 1e-9 ? '10⁻⁹' : datum.value == 1e-8 ? '10⁻⁸' : datum.value == 1e-7 ? '10⁻⁷' : ''",
               "tickSize":{"condition":{"test":"indexof([1e-10,1e-9,1e-8,1e-7], datum.value) >= 0","value":-14},"value":-7},
               "labelPadding":28,"title":"λFλ (ergs/cm²/s)","titleX":-119,"titleY":299,"titleAngle":-90,"titleBaseline":"alphabetic","titleAlign":"center"}},
  "color":{"field":"k","type":"nominal","legend":null,
   "scale":{"domain":["H1","H2","H3","H4","H5","H6","H7","H8","H9","H10","H11","H12","H13","H14","H15","H16","H17","L1","L2","L4","L5","L6","L8","L9","L10","L11","L12","L13","L14","L15","L16","O1","O2","O3","O4","O5","O6","O7","O8","O9","O10","O11","O12"],
            "range":["#fa9cf7","#fa9cf7","#ffbc98","#ff9e8f","#ffbc98","#a9a8cf","#fa9cf7","#ff9e8f","#a9a8cf","#ffbc98","#fa9cf7","#e89be8","#ff9e8f","#fa9cf7","#ffbc98","#a9a8cf","#fa9cf7","#aaaaaa","#aaaaaa","#aaaaaa","#aaaaaa","#aaaaaa","#aaaaaa","#a9a8cf","#ff9e8f","#ff9e8f","#a9a8cf","#aaaaaa","#fa9cf7","#aaaaaa","#aaaaaa","#fa9cf7","#a9a8cf","#fa9cf7","#ff9e8f","#ffbc98","#aaaaaa","#aaaaaa","#a9a8cf","#ff9e8f","#fa9cf7","#ffbc98","#fa9cf7"]}}}},
{"data":{"name":"star"},
 "mark":{"type":"line","clip":true,"strokeWidth":3.5,"color":"#000000","strokeDash":[18,13]},
 "encoding":{"x":{"field":"x","type":"quantitative","scale":{"type":"log","domain":[0.1236,243],"nice":false},"axis":null},
             "y":{"field":"y","type":"quantitative","scale":{"type":"log","domain":[2.16e-11,3.59e-7],"nice":false},"axis":null}}},
{"data":{"name":"fit"},
 "mark":{"type":"line","clip":true,"strokeWidth":3.5,"color":"#000000"},
 "encoding":{"x":{"field":"x","type":"quantitative","scale":{"type":"log","domain":[0.1236,243],"nice":false},"axis":null},
             "y":{"field":"y","type":"quantitative","scale":{"type":"log","domain":[2.16e-11,3.59e-7],"nice":false},"axis":null}}},
{"data":{"name":"obs"},
 "transform":[{"filter":"isValid(datum.hi)"}],
 "mark":{"type":"rule","color":"#000000","strokeWidth":2},
 "encoding":{"x":{"field":"x","type":"quantitative","scale":{"type":"log","domain":[0.1236,243],"nice":false},"axis":null},
             "y":{"field":"lo","type":"quantitative","scale":{"type":"log","domain":[2.16e-11,3.59e-7],"nice":false},"axis":null},
             "y2":{"field":"hi"}}},
{"data":{"name":"obs"},
 "mark":{"type":"point","filled":true,"size":190,"color":"#000000","opacity":1},
 "encoding":{"x":{"field":"x","type":"quantitative","scale":{"type":"log","domain":[0.1236,243],"nice":false},"axis":null},
             "y":{"field":"y","type":"quantitative","scale":{"type":"log","domain":[2.16e-11,3.59e-7],"nice":false},"axis":null}}}
]
}
